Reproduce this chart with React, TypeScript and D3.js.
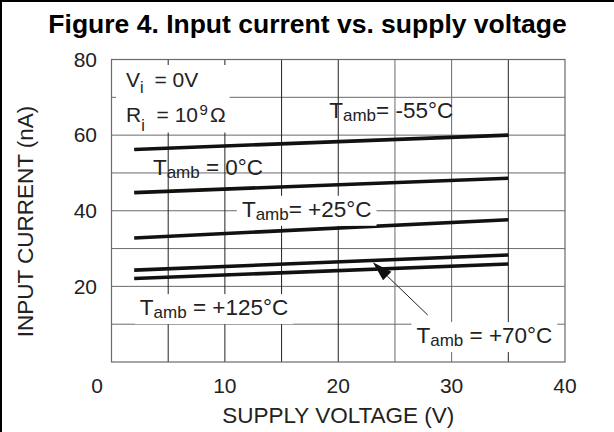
import React, { useEffect, useRef } from "react";
import * as d3 from "d3";

const W = 614;
const H = 432;

const xTicks = [10, 20, 30, 40];
const yTicks = [20, 40, 60, 80];
const xGrid = [5, 10, 15, 20, 25, 30, 35];
const xGridDark = [5, 10, 15, 20, 35];
const yGrid = [10, 20, 30, 40, 50, 60, 70];

const voltage = [2, 35];
const curveM55 = [56.2, 60.0];
const curve0 = [44.8, 48.6];
const curve25 = [32.8, 37.6];
const curve70 = [24.3, 28.3];
const curve125 = [22.1, 25.9];
const curves = [curveM55, curve0, curve25, curve70, curve125];

// arrow from label toward the +70 curve (data coordinates)
const arrowFrom = [27.9, 12.4];
const arrowTo = [23.05, 26.4];

type Lbl = { x: number; y: number; sub: string; rest: string; bg: boolean };
// Tamb labels, anchored at data coords (start of "T", baseline)
const tLabels: Lbl[] = [
  { x: 19.2, y: 64.5, sub: "amb", rest: "= -55°C", bg: false },
  { x: 3.65, y: 49.5, sub: "amb", rest: " = 0°C", bg: false },
  { x: 11.5, y: 38.4, sub: "amb", rest: "= +25°C", bg: true },
  { x: 2.5, y: 12.4, sub: "amb", rest: " = +125°C", bg: true },
  { x: 26.9, y: 5.0, sub: "amb", rest: " = +70°C", bg: true },
];

const FONT = "'Liberation Sans', Arial, Helvetica, sans-serif";

export default function App() {
  const ref = useRef<SVGSVGElement>(null);

  useEffect(() => {
    const svg = d3.select(ref.current);
    svg.selectAll("*").remove();

    const left = 111.5, right = 565, top = 59.5, bottom = 362;
    const x = d3.scaleLinear().domain([0, 40]).range([left, right]);
    const y = d3.scaleLinear().domain([0, 80]).range([bottom, top]);

    svg.append("rect").attr("width", W).attr("height", H).attr("fill", "#fff");

    // frame
    svg.append("line").attr("x1", 0).attr("x2", W).attr("y1", 1).attr("y2", 1)
      .attr("stroke", "#000").attr("stroke-width", 2);
    svg.append("line").attr("x1", 1).attr("x2", 1).attr("y1", 0).attr("y2", H)
      .attr("stroke", "#000").attr("stroke-width", 2);

    // title
    svg.append("text").attr("x", 307.5).attr("y", 33).attr("text-anchor", "middle")
      .attr("font-family", FONT).attr("font-weight", "bold").attr("font-size", 26.5)
      .attr("fill", "#000").text("Figure 4. Input current vs. supply voltage");

    const g = svg.append("g");

    // grid
    g.selectAll("line.hg").data(yGrid).enter().append("line")
      .attr("x1", left).attr("x2", right)
      .attr("y1", (d) => y(d)).attr("y2", (d) => y(d))
      .attr("stroke", "#6a6a6a").attr("stroke-width", 1);
    g.selectAll("line.vg").data(xGrid).enter().append("line")
      .attr("y1", top).attr("y2", bottom)
      .attr("x1", (d) => x(d)).attr("x2", (d) => x(d))
      .attr("stroke", (d) => (xGridDark.includes(d) ? "#222" : "#6a6a6a"))
      .attr("stroke-width", 1);
    g.append("rect").attr("x", left).attr("y", top)
      .attr("width", right - left).attr("height", bottom - top)
      .attr("fill", "none").attr("stroke", "#6a6a6a").attr("stroke-width", 1.2);

    // tick labels
    svg.selectAll("text.yt").data(yTicks).enter().append("text")
      .attr("x", 97).attr("y", (d) => y(d)).attr("dy", "0.35em")
      .attr("text-anchor", "end").attr("font-family", FONT).attr("font-size", 21)
      .attr("fill", "#222").text((d) => String(d));
    svg.selectAll("text.xt").data(xTicks).enter().append("text")
      .attr("x", (d) => x(d)).attr("y", 393)
      .attr("text-anchor", "middle").attr("font-family", FONT).attr("font-size", 21)
      .attr("fill", "#222").text((d) => String(d));
    svg.append("text").attr("x", 97).attr("y", 393).attr("text-anchor", "middle")
      .attr("font-family", FONT).attr("font-size", 21).attr("fill", "#222").text("0");

    // axis titles
    svg.append("text").attr("x", (left + right) / 2).attr("y", 423)
      .attr("text-anchor", "middle").attr("font-family", FONT).attr("font-size", 22.5)
      .attr("fill", "#222").text("SUPPLY VOLTAGE (V)");
    svg.append("text").attr("transform", `translate(33,${(100 + 343) / 2}) rotate(-90)`)
      .attr("text-anchor", "middle").attr("font-family", FONT).attr("font-size", 22.5)
      .attr("fill", "#222").text("INPUT CURRENT (nA)");

    // conditions block
    const cond = svg.append("g");
    const bgCond = cond.append("rect").attr("fill", "#fff");
    const t1 = cond.append("text").attr("x", 126).attr("y", 87)
      .attr("font-family", FONT).attr("font-size", 21).attr("fill", "#222");
    t1.append("tspan").text("V");
    t1.append("tspan").attr("font-size", 16).attr("dy", 6).text("i");
    t1.append("tspan").attr("dy", -6).attr("dx", 5).text(" = 0V");
    const t2 = cond.append("text").attr("x", 126).attr("y", 121.5)
      .attr("font-family", FONT).attr("font-size", 21).attr("fill", "#222");
    t2.append("tspan").text("R");
    t2.append("tspan").attr("font-size", 16).attr("dy", 9).text("i");
    t2.append("tspan").attr("dy", -9).attr("dx", 6).text(" = 10");
    t2.append("tspan").attr("font-size", 15).attr("dy", -7).attr("dx", 1.5).text("9");
    t2.append("tspan").attr("dy", 7).attr("dx", 2).text("Ω");
    const b1 = (t1.node() as SVGTextElement).getBBox();
    const b2 = (t2.node() as SVGTextElement).getBBox();
    const cx0 = Math.min(b1.x, b2.x) - 10, cx1 = Math.max(b1.x + b1.width, b2.x + b2.width) + 4;
    bgCond.attr("x", cx0).attr("y", b1.y - 3).attr("width", cx1 - cx0)
      .attr("height", b2.y + b2.height - b1.y + 2);

    // curves
    const line = d3.line<number>().x((_, i) => x(voltage[i])).y((d) => y(d));
    svg.selectAll("path.c").data(curves).enter().append("path")
      .attr("d", (d) => line(d) as string)
      .attr("fill", "none").attr("stroke", "#111").attr("stroke-width", 3.6)
      .attr("stroke-linecap", "butt");

    // labels
    tLabels.forEach((l) => {
      const lg = svg.append("g");
      const bg = lg.append("rect").attr("fill", "#fff");
      const t = lg.append("text").attr("x", x(l.x)).attr("y", y(l.y))
        .attr("font-family", FONT).attr("font-size", 22.5).attr("fill", "#222");
      t.append("tspan").text("T");
      t.append("tspan").attr("font-size", 17).attr("dy", 3).text(l.sub);
      t.append("tspan").attr("dy", -3).attr("xml:space", "preserve")
        .style("white-space", "pre").text(l.rest);
      if (l.bg) {
        const b = (t.node() as SVGTextElement).getBBox();
        bg.attr("x", b.x - 5).attr("y", b.y - 1).attr("width", b.width + 10)
          .attr("height", b.height + 3);
      } else bg.remove();
    });

    // arrow
    const ax0 = x(arrowFrom[0]), ay0 = y(arrowFrom[1]);
    const ax1 = x(arrowTo[0]), ay1 = y(arrowTo[1]);
    const ang = Math.atan2(ay1 - ay0, ax1 - ax0);
    const hl = 20, hw = 6;
    const bx = ax1 - hl * Math.cos(ang), by = ay1 - hl * Math.sin(ang);
    svg.append("line").attr("x1", ax0).attr("y1", ay0).attr("x2", bx).attr("y2", by)
      .attr("stroke", "#222").attr("stroke-width", 1);
    const px = -Math.sin(ang), py = Math.cos(ang);
    svg.append("path")
      .attr("d", `M${ax1},${ay1}L${bx + hw * px},${by + hw * py}L${bx - hw * px},${by - hw * py}Z`)
      .attr("fill", "#111");
  }, []);

  return (
    <svg ref={ref} width={W} height={H} style={{ display: "block", position: "absolute", left: 0, top: 0 }} />
  );
}
